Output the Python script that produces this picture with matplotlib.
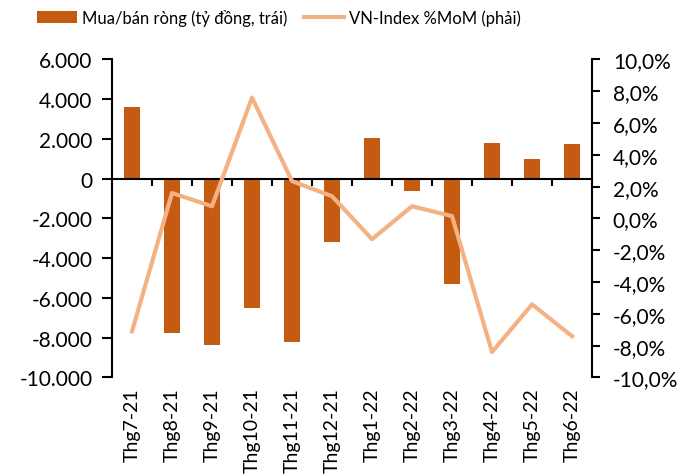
import matplotlib
matplotlib.use("Agg")
import matplotlib.pyplot as plt
from matplotlib.ticker import FuncFormatter

plt.rcParams['font.family'] = ['Lato', 'DejaVu Sans']

months = ["Thg7-21", "Thg8-21", "Thg9-21", "Thg10-21", "Thg11-21", "Thg12-21",
          "Thg1-22", "Thg2-22", "Thg3-22", "Thg4-22", "Thg5-22", "Thg6-22"]
net_buy = [3600, -7740, -8340, -6510, -8230, -3180, 2060, -640, -5290, 1790, 990, 1725]
vn_mom = [-7.1, 1.6, 0.77, 7.6, 2.35, 1.4, -1.3, 0.77, 0.15, -8.4, -5.4, -7.4]

bar_color = "#C55A11"
line_color = "#F4B183"
fs = 15

fig = plt.figure(figsize=(6.97, 4.77), dpi=100)
ax = fig.add_axes([0.1607, 0.2065, 0.6887, 0.6667])
x = list(range(len(months)))

ax.bar(x, net_buy, width=0.4, color=bar_color, label="Mua/bán ròng (tỷ đồng, trái)", zorder=2)
ax.set_ylim(-10000, 6000)
ax.set_xlim(-0.5, len(months) - 0.5)
ax.set_yticks(range(-10000, 6001, 2000))
ax.yaxis.set_major_formatter(FuncFormatter(lambda v, p: f"{int(v):,}".replace(",", ".")))

ax2 = ax.twinx()
ax2.plot(x, vn_mom, color=line_color, linewidth=3, label="VN-Index %MoM (phải)", zorder=3)
ax2.set_ylim(-10, 10)
ax2.set_yticks(range(-10, 11, 2))
ax2.yaxis.set_major_formatter(FuncFormatter(lambda v, p: f"{v:.1f}%".replace(".", ",")))

for a in (ax, ax2):
    a.spines['top'].set_visible(False)
    a.spines['bottom'].set_visible(False)
    a.spines['left'].set_linewidth(1.5)
    a.spines['right'].set_linewidth(1.5)
    a.tick_params(axis='y', direction='out', length=6, width=1.5, labelsize=fs)
ax.tick_params(axis='y', length=7, pad=7)
ax2.tick_params(axis='y', length=6, pad=9)
ax2.spines['left'].set_visible(False)
ax.spines['right'].set_visible(False)

# category labels at the bottom, no ticks
ax.set_xticks(x)
ax.set_xticklabels(months, rotation=90, fontsize=14)
ax.tick_params(axis='x', length=0, pad=7)

# zero line with boundary ticks pointing down
zero_pos = (0 - (-10000)) / 16000
sec = ax2.secondary_xaxis(zero_pos)
for s in sec.spines.values():
    s.set_linewidth(1.5)
sec.set_xticks([i + 0.5 for i in range(len(months) - 1)])
sec.set_xticklabels([])
sec.xaxis.set_tick_params(which='major', top=True, bottom=False, direction='in',
                          length=5, width=1.5, color='black')

h1, l1 = ax.get_legend_handles_labels()
h2, l2 = ax2.get_legend_handles_labels()
fig.legend(h1 + h2, l1 + l2, loc='upper left', bbox_to_anchor=(0.053, 0.98), ncol=2,
           frameon=False, fontsize=12, handlelength=2.4, columnspacing=1.0,
           handletextpad=0.3, borderpad=0, borderaxespad=0)

fig.savefig("out.png", dpi=100)
